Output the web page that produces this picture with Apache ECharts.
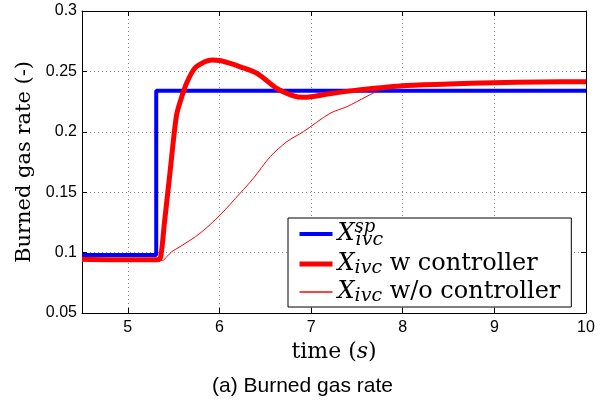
<!DOCTYPE html>
<html>
<head>
<meta charset="utf-8">
<script src="https://cdn.jsdelivr.net/npm/echarts@6/dist/echarts.min.js"></script>
<style>
  html, body { margin: 0; padding: 0; background: #fff; }
  #chart { width: 608px; height: 403px; }
</style>
</head>
<body>
<div id="chart"></div>
<script>
// set point
var spTime = [4.5, 5.31, 5.31, 10]
var spVal = [0.098, 0.098, 0.234, 0.234]
// with controller
var wTime = [4.5, 5.0, 5.33, 5.36, 5.40, 5.46, 5.53, 5.58, 5.64, 5.73, 5.84, 5.92, 6.0, 6.1, 6.22, 6.41, 6.625, 6.8, 6.91, 7.0, 7.2, 7.5, 7.97, 8.5, 8.99, 9.5, 10]
var wVal = [0.0945, 0.094, 0.094, 0.097, 0.125, 0.166, 0.213, 0.2270, 0.240, 0.2526, 0.258, 0.2595, 0.259, 0.257, 0.254, 0.2484, 0.236, 0.230, 0.2285, 0.229, 0.2315, 0.2345, 0.238, 0.2395, 0.2407, 0.2413, 0.2415]
// without controller
var woTime = [4.5, 5.0, 5.38, 5.425, 5.479, 5.57, 5.788, 6.007, 6.225, 6.37, 6.554, 6.735, 6.916, 7.207, 7.39, 7.6, 7.75, 7.9, 8.2, 8.99, 9.5, 10]
var woVal = [0.094, 0.0935, 0.0935, 0.0966, 0.1007, 0.1049, 0.1160, 0.1311, 0.1491, 0.1615, 0.1794, 0.1918, 0.2001, 0.2153, 0.2208, 0.229, 0.2346, 0.2375, 0.239, 0.2405, 0.2412, 0.2415]
var xTicks = [5, 6, 7, 8, 9, 10]

function pairs(xs, ys) {
  return xs.map(function (x, i) { return [x, ys[i]] })
}

var myChart = echarts.init(document.getElementById('chart'))
var serif = 'DejaVu Serif'
var sans = 'Liberation Sans'
var gridColor = '#8a8a8a'

var xBase = {
  type: 'value',
  min: 4.5,
  max: 10,
  axisLine: { show: true, lineStyle: { color: '#000', width: 1 } },
  axisTick: { show: true, inside: true, length: 5, customValues: xTicks, lineStyle: { color: '#000' } },
  axisLabel: { show: false },
  splitLine: { show: false }
}
var yBase = {
  type: 'value',
  min: 0.05,
  max: 0.3,
  interval: 0.05,
  axisLine: { show: true, lineStyle: { color: '#000', width: 1 } },
  axisTick: { show: true, inside: true, length: 5, lineStyle: { color: '#000' } },
  axisLabel: { show: false },
  splitLine: { show: false }
}

var legendNames = {
  sp: '{xa|X}{sup|sp}{sub|ivc}',
  w: '{x|X}{sub|ivc}{t| w controller}',
  wo: '{x|X}{sub|ivc}{t| w/o controller}'
}
var noDot = { opacity: 0 }

var option = {
  animation: false,
  backgroundColor: '#fff',
  title: {
    text: '(a) Burned gas rate',
    left: 207,
    top: 371,
    textStyle: { fontFamily: sans, fontSize: 21, fontWeight: 'normal', color: '#000' }
  },
  grid: { left: 82, right: 22, top: 11, bottom: 90 },
  legend: {
    orient: 'vertical',
    left: 288,
    top: 218,
    padding: [0, 11, 1, 9],
    itemGap: 2,
    itemWidth: 33,
    itemHeight: 14,
    backgroundColor: '#fff',
    borderColor: '#000',
    borderWidth: 1,
    borderRadius: 0,
    data: [
      { name: 'sp', lineStyle: { width: 4 }, itemStyle: noDot },
      { name: 'w', lineStyle: { width: 5 }, itemStyle: noDot },
      { name: 'wo', lineStyle: { width: 1.5 }, itemStyle: noDot }
    ],
    formatter: function (name) { return legendNames[name] },
    textStyle: {
      color: '#000',
      rich: {
        xa: { fontFamily: serif, fontStyle: 'italic', fontSize: 24, lineHeight: 32, color: '#000' },
        x: { fontFamily: serif, fontStyle: 'italic', fontSize: 24, lineHeight: 28, color: '#000' },
        sup: { fontFamily: serif, fontStyle: 'italic', fontSize: 18, lineHeight: 15, verticalAlign: 'top', width: 1, color: '#000' },
        sub: { fontFamily: serif, fontStyle: 'italic', fontSize: 19, lineHeight: 16, verticalAlign: 'bottom', color: '#000' },
        t: { fontFamily: serif, fontSize: 24, lineHeight: 28, color: '#000' }
      }
    }
  },
  xAxis: [
    Object.assign({}, xBase, {
      position: 'bottom',
      name: 'time ({i|s})',
      nameLocation: 'middle',
      nameGap: 28,
      nameTextStyle: {
        fontFamily: serif, fontSize: 22, color: '#000',
        rich: { i: { fontFamily: serif, fontStyle: 'italic', fontSize: 22, color: '#000' } }
      },
      axisLabel: { show: true, customValues: xTicks, color: '#000', fontFamily: sans, fontSize: 16, margin: 7 },
      splitLine: { show: true, lineStyle: { color: gridColor, type: [1, 3], width: 1 } }
    }),
    Object.assign({}, xBase, { position: 'top' })
  ],
  yAxis: [
    Object.assign({}, yBase, {
      position: 'left',
      name: 'Burned gas rate (-)',
      nameLocation: 'middle',
      nameRotate: 90,
      nameGap: 45,
      nameTextStyle: { fontFamily: serif, fontSize: 21, color: '#000' },
      axisLabel: { show: true, color: '#000', fontFamily: sans, fontSize: 16, margin: 5 },
      splitLine: { show: true, lineStyle: { color: gridColor, type: [1, 3], width: 1 } }
    }),
    Object.assign({}, yBase, { position: 'right' })
  ],
  series: [
    {
      name: 'sp',
      type: 'line',
      symbol: 'none',
      z: 2,
      lineStyle: { color: '#0000ff', width: 4 },
      itemStyle: { color: '#0000ff' },
      data: pairs(spTime, spVal)
    },
    {
      name: 'w',
      type: 'line',
      symbol: 'none',
      smooth: 0.3,
      z: 3,
      lineStyle: { color: '#ff0000', width: 5 },
      itemStyle: { color: '#ff0000' },
      data: pairs(wTime, wVal)
    },
    {
      name: 'wo',
      type: 'line',
      symbol: 'none',
      smooth: 0.3,
      z: 4,
      lineStyle: { color: '#ff0000', width: 1 },
      itemStyle: { color: '#ff0000' },
      data: pairs(woTime, woVal)
    }
  ]
}

myChart.setOption(option)
</script>
</body>
</html>
